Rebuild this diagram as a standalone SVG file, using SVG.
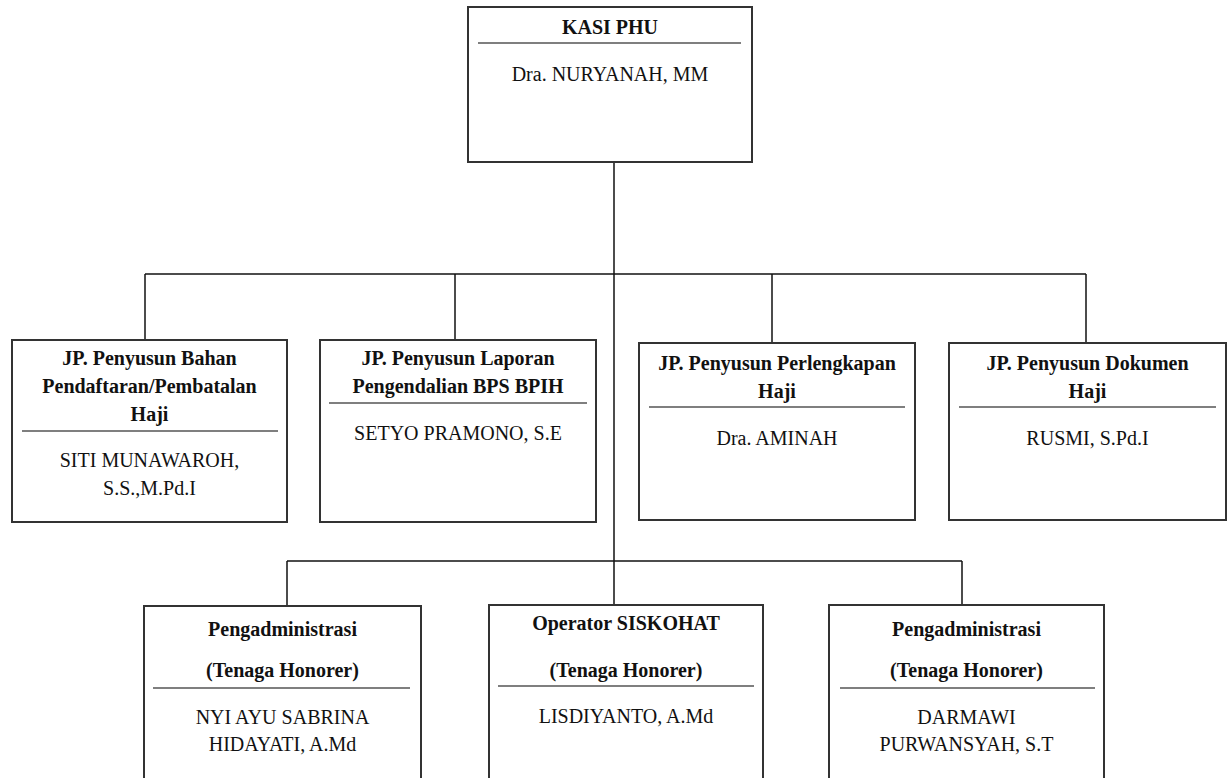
<svg xmlns="http://www.w3.org/2000/svg" width="1231" height="778" viewBox="0 0 1231 778">
<style>
  .box { fill: #ffffff; stroke: #333333; stroke-width: 2; }
  .div { stroke: #555555; stroke-width: 1.5; fill: none; }
  .con { stroke: #111111; stroke-width: 1.5; fill: none; }
  text { font-family: "Liberation Serif", "Times New Roman", serif; font-size: 20px; fill: #111111; text-anchor: middle; }
  .b { font-weight: bold; }
</style>
<rect width="1231" height="778" fill="#ffffff"/>
<g id="connectors">
  <line class="con" x1="614" y1="162" x2="614" y2="605"/>
  <line class="con" x1="145" y1="274" x2="1086" y2="274"/>
  <line class="con" x1="145" y1="274" x2="145" y2="340"/>
  <line class="con" x1="455" y1="274" x2="455" y2="340"/>
  <line class="con" x1="772" y1="274" x2="772" y2="343"/>
  <line class="con" x1="1086" y1="274" x2="1086" y2="343"/>
  <line class="con" x1="287" y1="561" x2="962" y2="561"/>
  <line class="con" x1="287" y1="561" x2="287" y2="606"/>
  <line class="con" x1="962" y1="561" x2="962" y2="605"/>
</g>
<g id="kasi">
  <rect class="box" x="468" y="7" width="284" height="155"/>
  <line class="div" x1="478" y1="43" x2="741" y2="43"/>
  <text class="b" x="610" y="34">KASI PHU</text>
  <text x="610" y="81">Dra. NURYANAH, MM</text>
</g>
<g id="jp-pendaftaran">
  <rect class="box" x="12" y="340" width="275" height="182"/>
  <line class="div" x1="22" y1="431" x2="278" y2="431"/>
  <text class="b" x="149.5" y="365">JP. Penyusun Bahan</text>
  <text class="b" x="149.5" y="393">Pendaftaran/Pembatalan</text>
  <text class="b" x="149.5" y="421">Haji</text>
  <text x="149.5" y="467">SITI MUNAWAROH,</text>
  <text x="149.5" y="495">S.S.,M.Pd.I</text>
</g>
<g id="jp-laporan">
  <rect class="box" x="320" y="340" width="276" height="182"/>
  <line class="div" x1="329" y1="403" x2="587" y2="403"/>
  <text class="b" x="458" y="365">JP. Penyusun Laporan</text>
  <text class="b" x="458" y="393">Pengendalian BPS BPIH</text>
  <text x="458" y="440">SETYO PRAMONO, S.E</text>
</g>
<g id="jp-perlengkapan">
  <rect class="box" x="639" y="343" width="276" height="177"/>
  <line class="div" x1="649" y1="407" x2="905" y2="407"/>
  <text class="b" x="777" y="370">JP. Penyusun Perlengkapan</text>
  <text class="b" x="777" y="398">Haji</text>
  <text x="777" y="445">Dra. AMINAH</text>
</g>
<g id="jp-dokumen">
  <rect class="box" x="949" y="343" width="277" height="177"/>
  <line class="div" x1="959" y1="407" x2="1216" y2="407"/>
  <text class="b" x="1087.5" y="370">JP. Penyusun Dokumen</text>
  <text class="b" x="1087.5" y="398">Haji</text>
  <text x="1087.5" y="445">RUSMI, S.Pd.I</text>
</g>
<g id="pengadministrasi-1">
  <rect class="box" x="144" y="606" width="277" height="190"/>
  <line class="div" x1="153" y1="688" x2="410" y2="688"/>
  <text class="b" x="282.5" y="636">Pengadministrasi</text>
  <text class="b" x="282.5" y="677">(Tenaga Honorer)</text>
  <text x="282.5" y="724">NYI AYU SABRINA</text>
  <text x="282.5" y="751">HIDAYATI, A.Md</text>
</g>
<g id="operator">
  <rect class="box" x="489" y="605" width="274" height="190"/>
  <line class="div" x1="498" y1="686" x2="754" y2="686"/>
  <text class="b" x="626" y="630">Operator SISKOHAT</text>
  <text class="b" x="626" y="677">(Tenaga Honorer)</text>
  <text x="626" y="723">LISDIYANTO, A.Md</text>
</g>
<g id="pengadministrasi-2">
  <rect class="box" x="829" y="605" width="275" height="190"/>
  <line class="div" x1="840" y1="688" x2="1095" y2="688"/>
  <text class="b" x="966.5" y="636">Pengadministrasi</text>
  <text class="b" x="966.5" y="677">(Tenaga Honorer)</text>
  <text x="966.5" y="724">DARMAWI</text>
  <text x="966.5" y="751">PURWANSYAH, S.T</text>
</g>
</svg>
